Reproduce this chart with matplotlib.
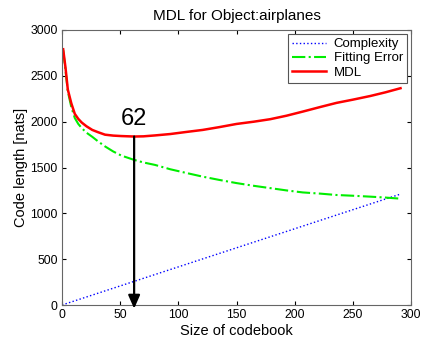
import matplotlib
matplotlib.use("Agg")
import matplotlib.pyplot as plt

plt.rcParams['font.family'] = ['Liberation Sans', 'DejaVu Sans']

# values
codebook_size = [1, 3, 5, 8, 11, 14, 17, 21, 26, 31, 37, 44, 51, 62, 70, 80, 93,
                 107, 121, 135, 150, 165, 179, 193, 207, 222, 236, 250, 265, 278, 291]
fitting_error = [2780, 2560, 2330, 2160, 2040, 1975, 1930, 1880, 1835, 1785, 1730, 1675,
                 1630, 1583, 1555, 1528, 1481, 1440, 1400, 1365, 1330, 1300, 1275, 1250,
                 1228, 1215, 1200, 1192, 1182, 1172, 1160]
mdl = [2790, 2590, 2350, 2200, 2085, 2030, 1990, 1950, 1910, 1885, 1858, 1848,
       1843, 1838, 1840, 1850, 1865, 1888, 1910, 1940, 1975, 2000, 2027, 2065,
       2110, 2160, 2205, 2240, 2280, 2320, 2365]
complexity_size = [0, 291]
complexity = [0, 1210]
best_size = 62
best_mdl = 1838

fig = plt.figure(figsize=(4.22, 3.41), dpi=100)
ax = fig.add_axes([62 / 422, 36 / 341, 349 / 422, 275 / 341])

ax.plot(complexity_size, complexity, ':', color='blue', lw=1.0, label='Complexity')
ax.plot(codebook_size, fitting_error, '-.', color='#00ee00', lw=1.5, label='Fitting Error')
ax.plot(codebook_size, mdl, '-', color='red', lw=1.8, label='MDL')

# arrow from the MDL minimum down to the x axis
ax.annotate('', xy=(best_size, -40), xytext=(best_size, best_mdl),
            arrowprops=dict(arrowstyle='-|>,head_length=0.8,head_width=0.35',
                            mutation_scale=10, color='black', lw=1.6,
                            shrinkA=0, shrinkB=0), annotation_clip=False)
ax.text(best_size, best_mdl + 70, str(best_size), ha='center', va='bottom', fontsize=17)

ax.set_xlim(0, 300)
ax.set_ylim(0, 3000)
ax.set_xticks(range(0, 301, 50))
ax.set_yticks(range(0, 3001, 500))
ax.tick_params(direction='in', top=True, right=True, labelsize=8.8, length=3, pad=3)
for s in ax.spines.values():
    s.set_color('#666666')

ax.set_title('MDL for Object:airplanes', fontsize=11, pad=7)
ax.set_xlabel('Size of codebook', fontsize=10.5, labelpad=2)
ax.set_ylabel('Code length [nats]', fontsize=10.5, labelpad=2)

leg = ax.legend(loc='upper right', fontsize=9.5, fancybox=False, framealpha=1,
                edgecolor='#555555', handlelength=2.6, borderaxespad=0.3,
                labelspacing=0.15, borderpad=0.3, handletextpad=0.6)
leg.get_frame().set_linewidth(0.8)

fig.savefig('out.png', dpi=100)
